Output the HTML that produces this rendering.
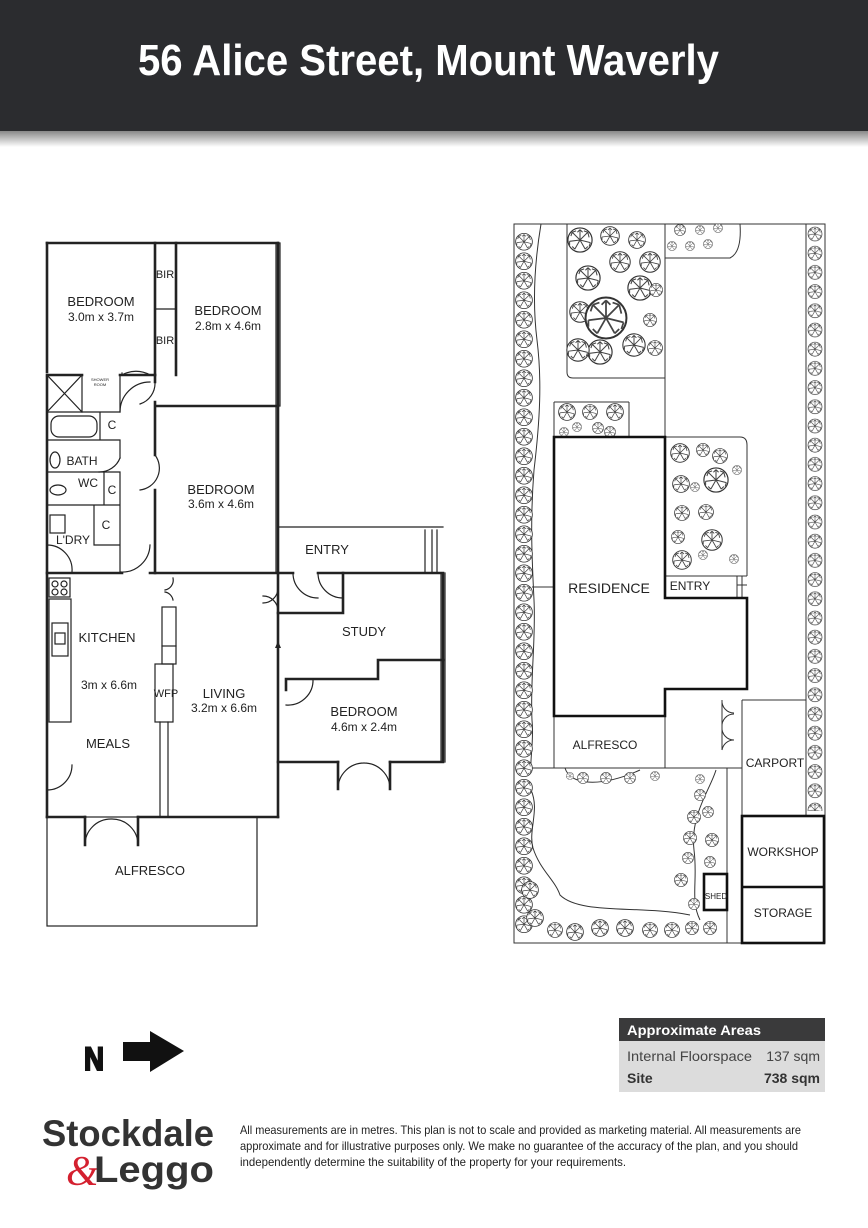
<!DOCTYPE html>
<html><head><meta charset="utf-8"><style>
html,body{margin:0;padding:0;background:#fff;width:868px;height:1228px;overflow:hidden}
svg{display:block}
</style></head><body>
<svg width="868" height="1228" viewBox="0 0 868 1228" xmlns="http://www.w3.org/2000/svg" xmlns:xlink="http://www.w3.org/1999/xlink" font-family="Liberation Sans, Arial, sans-serif">
<defs>
<linearGradient id="sh" x1="0" y1="0" x2="0" y2="1"><stop offset="0" stop-color="#888"/><stop offset="1" stop-color="#fff"/></linearGradient>
<symbol id="t" viewBox="-10 -10 20 20">
<circle r="9.3" fill="#fff" stroke="#333" stroke-width="0.9"/>
<g stroke="#444" stroke-width="0.8" fill="none">
<path d="M0,0L-6,-6M0,0L6,-6M0,0L-8,1M0,0L8,2M0,0L-4,7M0,0L4,7M0,0L0,-8M-6,-6L-7,-3M6,-6L7,-2M-4,7L-6,5M4,7L6,5M0,-8L-2,-6M0,-8L2,-6M-8,1L-8,4M8,2L7,5M-6,-6L-3,-7M6,-6L3,-7"/>
</g></symbol>
<pattern id="pl" patternUnits="userSpaceOnUse" x="515" y="232" width="18" height="19.5">
<use href="#t" xlink:href="#t" x="0" y="0.75" width="18" height="18"/>
</pattern>
<pattern id="pr" patternUnits="userSpaceOnUse" x="807" y="225" width="16" height="19.2">
<use href="#t" xlink:href="#t" x="0.5" y="1.5" width="15" height="15"/>
</pattern>
</defs>
<!-- header -->
<rect x="0" y="0" width="868" height="131" fill="#2b2c2f"/>
<rect x="0" y="131" width="868" height="16" fill="url(#sh)"/>
<text x="138" y="75" font-size="44" font-weight="bold" fill="#fff" textLength="581" lengthAdjust="spacingAndGlyphs">56 Alice Street, Mount Waverly</text>

<!-- LEFT PLAN -->
<g fill="none" stroke="#222" stroke-linecap="square">
<g stroke-width="2.6">
<path d="M47,243H278"/>
<path d="M47,243V372M47,377V817"/>
<path d="M155,243V375M176,243V375"/>
<path d="M47,375H82M120,375H155"/>
<path d="M155,375V382M155,402V406H278M155,406V455M155,490V573"/>
<path d="M47,573H122M150,573H278"/>
<path d="M278,243V817"/>
<path d="M47,817H85M138,817H278"/>
<path d="M278,573H293M318,573H343M343,573H443V762H390M338,762H278"/>
<path d="M278,613H343V573"/>
<path d="M286,679V690M286,679H313M313,679H378V660H443"/>
<path d="M85,817V845M138,817V845M338,762V789M390,762V789"/>
</g>
<g stroke-width="1.2">
<path d="M155,309H176"/>
<path d="M47,412H120V375M47,440H120M100,412V440M47,472H120M47,505H120M104,472V505M94,505V545H120M120,375V412M120,440V458M120,472V572"/>
<path d="M47,375L82,412M82,375L47,412M82,375V412"/>
<rect x="51" y="416" width="46" height="21" rx="8"/>
<ellipse cx="55" cy="460" rx="5" ry="8"/>
<ellipse cx="58" cy="490" rx="8" ry="5"/>
<rect x="50" y="515" width="15" height="18"/>
<rect x="49" y="578" width="21" height="19"/><circle cx="55" cy="584" r="3"/><circle cx="64" cy="584" r="3"/><circle cx="55" cy="592" r="3"/><circle cx="64" cy="592" r="3"/>
<rect x="49" y="599" width="22" height="123"/>
<rect x="52" y="623" width="16" height="33"/><rect x="55" y="633" width="10" height="11"/>
<rect x="162" y="607" width="14" height="57"/><path d="M162,646H176"/>
<rect x="155" y="664" width="18" height="58"/>
<path d="M160,722V817M168,722V817"/>
<path d="M276,243V573M280,243V406"/>
<path d="M441,573V762M445,573V762"/>
<path d="M278,527H443"/><path d="M425,530V573M432,530V573M437,530V573"/>
<rect x="47" y="817" width="210" height="109"/>
<path d="M150,375A28,28 0 0 0 122,375M122,375V373"/>
<path d="M155,382A22,22 0 0 1 140,404M120,412A30,30 0 0 1 150,382"/>
<path d="M155,455A22,22 0 0 1 140,490"/>
<path d="M120,458A22,22 0 0 1 99,472"/>
<path d="M120,572A28,28 0 0 0 150,545"/>
<path d="M47,545A25,25 0 0 1 72,572"/>
<path d="M47,790A25,25 0 0 0 72,765"/>
<path d="M85,845A26,26 0 0 1 111,819M138,845A26,26 0 0 0 112,819"/>
<path d="M338,789A26,26 0 0 1 364,763M390,789A26,26 0 0 0 364,763"/>
<path d="M293,573A25,25 0 0 0 318,598"/>
<path d="M318,573A25,25 0 0 0 343,598"/>
<path d="M278,588A15,15 0 0 1 263,603M278,611A15,15 0 0 0 263,596"/>
<path d="M286,705A25,25 0 0 0 313,679"/>
<path d="M173,578A10,10 0 0 1 165,590M173,600A10,10 0 0 0 165,592"/>
</g>
</g>
<path d="M275,648l3,-7l3,7z" fill="#222"/>
<g font-size="13" fill="#222" text-anchor="middle">
<text x="101" y="306">BEDROOM</text><text x="101" y="321" font-size="12">3.0m x 3.7m</text>
<text x="228" y="315">BEDROOM</text><text x="228" y="330" font-size="12">2.8m x 4.6m</text>
<text x="221" y="494">BEDROOM</text><text x="221" y="508" font-size="12">3.6m x 4.6m</text>
<text x="165" y="278" font-size="11">BIR</text><text x="165" y="344" font-size="11">BIR</text>
<text x="82" y="465" font-size="12">BATH</text>
<text x="88" y="487" font-size="12">WC</text>
<text x="112" y="429" font-size="12">C</text><text x="112" y="494" font-size="12">C</text><text x="106" y="529" font-size="12">C</text>
<text x="73" y="544" font-size="12">L'DRY</text>
<text x="100" y="381" font-size="4">SHOWER</text><text x="100" y="386" font-size="4">ROOM</text>
<text x="327" y="554">ENTRY</text>
<text x="107" y="642">KITCHEN</text>
<text x="109" y="689" font-size="12">3m x 6.6m</text>
<text x="108" y="748">MEALS</text>
<text x="166" y="697" font-size="11">WFP</text>
<text x="224" y="698">LIVING</text><text x="224" y="712" font-size="12">3.2m x 6.6m</text>
<text x="364" y="636">STUDY</text>
<text x="364" y="716">BEDROOM</text><text x="364" y="731" font-size="12">4.6m x 2.4m</text>
<text x="150" y="875">ALFRESCO</text>
</g>

<!-- RIGHT SITE PLAN -->
<g fill="none" stroke="#333" stroke-width="1">
<rect x="514" y="224" width="311" height="719"/>
<path d="M806,224V815"/>
<path d="M541,224C535,260 532,300 537,340C542,380 540,420 534,470C530,520 532,560 534,600C536,640 530,680 532,720C534,740 530,760 531,768"/>
<path d="M567,224V372Q567,378 573,378H665V224M665,258H730Q742,252 740,224M665,378V437"/>
<path d="M554,402V437M629,402V437M554,402H629"/>
<path d="M665,437H740Q747,437 747,445V576"/>
<path d="M665,576H747M737,576V598M742,576V598M737,585H747"/>
<path d="M532,587H554M532,768H554"/>
<rect x="554" y="716" width="111" height="52"/>
<path d="M665,768H742M742,700H806M742,700V816M722,700V750"/>
<path d="M722,700A12,12 0 0 0 734,713M722,727A12,12 0 0 1 734,714M722,727A12,12 0 0 0 734,740M722,750A12,12 0 0 1 734,740"/>
<path d="M727,768V943"/>
<path d="M716,770C710,790 690,815 694,850C698,880 690,900 700,920"/>
<path d="M531,790C540,810 528,830 533,848C540,870 555,880 560,895C580,915 640,905 690,915"/>
<path d="M565,768C570,785 600,788 640,770"/>
</g>
<rect x="515" y="232" width="18" height="702" fill="url(#pl)"/>
<rect x="807" y="225" width="16" height="586" fill="url(#pr)"/>
<g>
<use href="#t" x="567" y="227" width="26" height="26"/>
<use href="#t" x="600" y="226" width="20" height="20"/>
<use href="#t" x="628" y="231" width="18" height="18"/>
<use href="#t" x="575" y="265" width="26" height="26"/>
<use href="#t" x="609" y="251" width="22" height="22"/>
<use href="#t" x="639" y="251" width="22" height="22"/>
<use href="#t" x="627" y="275" width="26" height="26"/>
<use href="#t" x="649" y="283" width="14" height="14"/>
<use href="#t" x="569" y="301" width="22" height="22"/>
<use href="#t" x="584" y="296" width="44" height="44"/>
<use href="#t" x="643" y="313" width="14" height="14"/>
<use href="#t" x="622" y="333" width="24" height="24"/>
<use href="#t" x="587" y="339" width="26" height="26"/>
<use href="#t" x="566" y="338" width="24" height="24"/>
<use href="#t" x="647" y="340" width="16" height="16"/>
<use href="#t" x="558" y="403" width="18" height="18"/>
<use href="#t" x="582" y="404" width="16" height="16"/>
<use href="#t" x="606" y="403" width="18" height="18"/>
<use href="#t" x="559" y="427" width="10" height="10"/>
<use href="#t" x="572" y="422" width="10" height="10"/>
<use href="#t" x="592" y="422" width="12" height="12"/>
<use href="#t" x="604" y="426" width="12" height="12"/>
<use href="#t" x="674" y="224" width="12" height="12"/>
<use href="#t" x="695" y="225" width="10" height="10"/>
<use href="#t" x="713" y="223" width="10" height="10"/>
<use href="#t" x="667" y="241" width="10" height="10"/>
<use href="#t" x="685" y="241" width="10" height="10"/>
<use href="#t" x="703" y="239" width="10" height="10"/>
<use href="#t" x="670" y="443" width="20" height="20"/>
<use href="#t" x="696" y="443" width="14" height="14"/>
<use href="#t" x="712" y="448" width="16" height="16"/>
<use href="#t" x="732" y="465" width="10" height="10"/>
<use href="#t" x="672" y="475" width="18" height="18"/>
<use href="#t" x="703" y="467" width="26" height="26"/>
<use href="#t" x="690" y="482" width="10" height="10"/>
<use href="#t" x="698" y="504" width="16" height="16"/>
<use href="#t" x="674" y="505" width="16" height="16"/>
<use href="#t" x="671" y="530" width="14" height="14"/>
<use href="#t" x="701" y="529" width="22" height="22"/>
<use href="#t" x="672" y="550" width="20" height="20"/>
<use href="#t" x="698" y="550" width="10" height="10"/>
<use href="#t" x="729" y="554" width="10" height="10"/>
<use href="#t" x="566" y="772" width="8" height="8"/>
<use href="#t" x="577" y="772" width="12" height="12"/>
<use href="#t" x="600" y="772" width="12" height="12"/>
<use href="#t" x="624" y="772" width="12" height="12"/>
<use href="#t" x="650" y="771" width="10" height="10"/>
<use href="#t" x="695" y="774" width="10" height="10"/>
<use href="#t" x="694" y="789" width="12" height="12"/>
<use href="#t" x="687" y="810" width="14" height="14"/>
<use href="#t" x="702" y="806" width="12" height="12"/>
<use href="#t" x="683" y="831" width="14" height="14"/>
<use href="#t" x="705" y="833" width="14" height="14"/>
<use href="#t" x="682" y="852" width="12" height="12"/>
<use href="#t" x="704" y="856" width="12" height="12"/>
<use href="#t" x="674" y="873" width="14" height="14"/>
<use href="#t" x="688" y="898" width="12" height="12"/>
<use href="#t" x="521" y="881" width="18" height="18"/>
<use href="#t" x="526" y="909" width="18" height="18"/>
<use href="#t" x="547" y="922" width="16" height="16"/>
<use href="#t" x="566" y="923" width="18" height="18"/>
<use href="#t" x="591" y="919" width="18" height="18"/>
<use href="#t" x="616" y="919" width="18" height="18"/>
<use href="#t" x="642" y="922" width="16" height="16"/>
<use href="#t" x="664" y="922" width="16" height="16"/>
<use href="#t" x="685" y="921" width="14" height="14"/>
<use href="#t" x="703" y="921" width="14" height="14"/>
</g>
<!-- thick outlines on top -->
<path d="M554,437H665V598H747V689H665V716H554Z" fill="none" stroke="#111" stroke-width="2.6"/>
<rect x="742" y="816" width="82" height="127" fill="none" stroke="#111" stroke-width="2.6"/>
<line x1="742" y1="887" x2="824" y2="887" stroke="#111" stroke-width="2.6"/>
<rect x="704" y="874" width="23" height="36" fill="#fff" stroke="#111" stroke-width="2.6"/>
<g font-size="14" fill="#222" text-anchor="middle">
<text x="609" y="593">RESIDENCE</text>
<text x="690" y="590" font-size="12">ENTRY</text>
<text x="605" y="749" font-size="12">ALFRESCO</text>
<text x="775" y="767" font-size="12">CARPORT</text>
<text x="783" y="856" font-size="12">WORKSHOP</text>
<text x="783" y="917" font-size="12">STORAGE</text>
<text x="716" y="899" font-size="8">SHED</text>
</g>

<!-- bottom -->
<text x="84" y="1070" font-size="32" font-weight="bold" fill="#111" stroke="#111" stroke-width="2" textLength="20" lengthAdjust="spacingAndGlyphs">N</text>
<path d="M123,1042H150V1031L184,1051L150,1072V1061H123Z" fill="#111"/>
<rect x="619" y="1018" width="206" height="74" fill="#dcdcdc"/>
<rect x="619" y="1018" width="206" height="23" fill="#3a3a3b"/>
<text x="627" y="1035" font-size="14" font-weight="bold" fill="#fff" textLength="134" lengthAdjust="spacingAndGlyphs">Approximate Areas</text>
<text x="627" y="1061" font-size="14" fill="#444" textLength="125" lengthAdjust="spacingAndGlyphs">Internal Floorspace</text>
<text x="820" y="1061" font-size="14" fill="#444" text-anchor="end">137 sqm</text>
<text x="627" y="1083" font-size="14" font-weight="bold" fill="#333">Site</text>
<text x="820" y="1083" font-size="14" font-weight="bold" fill="#333" text-anchor="end">738 sqm</text>
<text x="42" y="1146" font-size="37" font-weight="bold" fill="#333" textLength="172" lengthAdjust="spacingAndGlyphs">Stockdale</text>
<text x="66" y="1185" font-size="42" fill="#d4202f" font-family="Liberation Serif, serif" font-style="italic">&amp;</text>
<text x="94" y="1182" font-size="37" font-weight="bold" fill="#333" textLength="120" lengthAdjust="spacingAndGlyphs">Leggo</text>
<g font-size="12" fill="#222">
<text x="240" y="1134" textLength="561" lengthAdjust="spacingAndGlyphs">All measurements are in metres. This plan is not to scale and provided as marketing material. All measurements are</text>
<text x="240" y="1150" textLength="558" lengthAdjust="spacingAndGlyphs">approximate and for illustrative purposes only. We make no guarantee of the accuracy of the plan, and you should</text>
<text x="240" y="1166" textLength="386" lengthAdjust="spacingAndGlyphs">independently determine the suitability of the property for your requirements.</text>
</g>
</svg>
</body></html>
